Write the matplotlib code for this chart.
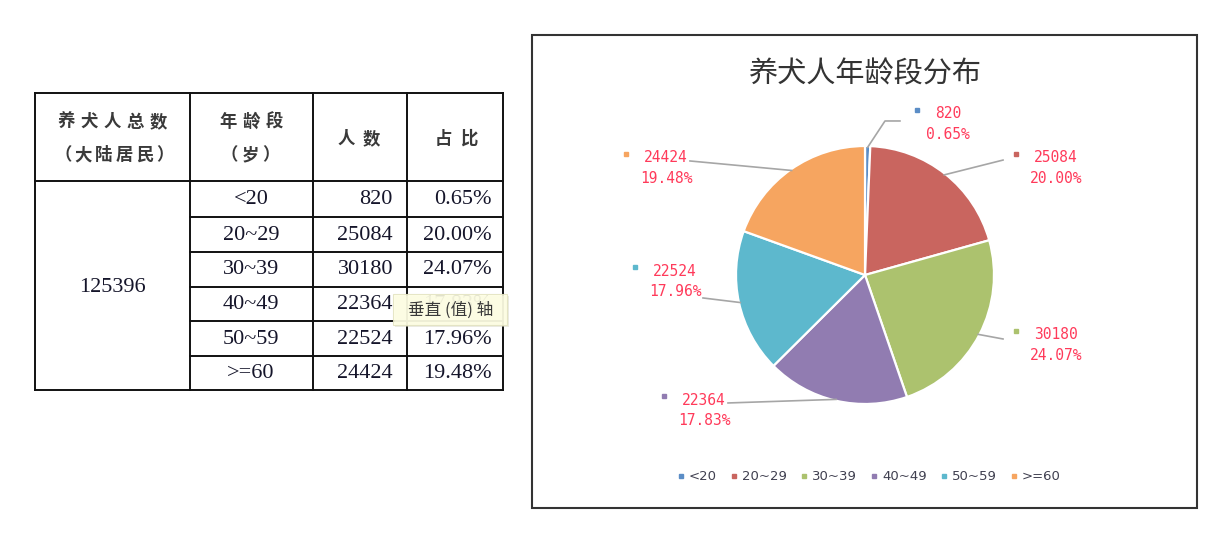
import matplotlib
matplotlib.use("Agg")
import matplotlib.pyplot as plt
from matplotlib.lines import Line2D
from matplotlib.patches import Rectangle
import numpy as np

plt.rcParams['font.family'] = ['Noto Sans CJK SC', 'DejaVu Sans']

# ---- data ----
total = 125396
age_groups = ['<20', '20~29', '30~39', '40~49', '50~59', '>=60']
counts = [820, 25084, 30180, 22364, 22524, 24424]
percents = ['0.65%', '20.00%', '24.07%', '17.83%', '17.96%', '19.48%']
chart_title = '养犬人年龄段分布'
colors = ['#5B8DC6', '#C9655F', '#ACC26E', '#917CB1', '#5DB8CD', '#F6A560']

fig = plt.figure(figsize=(12.32, 5.4), dpi=100)

# ---------------- table (pixel coordinates) ----------------
ax0 = fig.add_axes([0, 0, 1, 1])
ax0.set_xlim(0, 1232)
ax0.set_ylim(540, 0)
ax0.axis('off')

xs = [35, 190, 313, 407, 503]
ys = [93, 181, 216.5, 251.5, 286.5, 321, 355.5, 390]
lc = '#111111'
lw = 1.4
for x in xs:
    ax0.plot([x, x], [ys[0], ys[-1]], color=lc, lw=lw, solid_capstyle='projecting')
ax0.plot([xs[0], xs[-1]], [ys[0], ys[0]], color=lc, lw=lw, solid_capstyle='projecting')
ax0.plot([xs[0], xs[-1]], [ys[1], ys[1]], color=lc, lw=lw, solid_capstyle='projecting')
ax0.plot([xs[0], xs[-1]], [ys[-1], ys[-1]], color=lc, lw=lw, solid_capstyle='projecting')
for y in ys[2:-1]:
    ax0.plot([xs[1], xs[-1]], [y, y], color=lc, lw=lw, solid_capstyle='projecting')


def spaced(ax, xc, y, s, adv, **kw):
    n = len(s)
    x0 = xc - adv * (n - 1) / 2
    for i, ch in enumerate(s):
        ax.text(x0 + i * adv, y, ch, ha='center', va='center', **kw)


hkw = dict(fontsize=12.5, color='#3a3a3a', fontweight='bold')
spaced(ax0, 112, 122, '养犬人总数', 23, **hkw)
spaced(ax0, 114, 155, '（大陆居民）', 20.5, **hkw)
spaced(ax0, 251, 122, '年龄段', 23, **hkw)
spaced(ax0, 250, 155, '（岁）', 21, **hkw)
spaced(ax0, 359, 139, '人数', 25, **hkw)
spaced(ax0, 456, 139, '占比', 25, **hkw)

nkw = dict(fontsize=16, color='#15152a', family='Liberation Serif')
ax0.text(112, 287, str(total), ha='center', va='center', **nkw)
for i, (g, c, p) in enumerate(zip(age_groups, counts, percents)):
    yc = (ys[i + 1] + ys[i + 2]) / 2 + 1
    ax0.text(251, yc, g, ha='center', va='center', **nkw)
    ax0.text(393, yc, str(c), ha='right', va='center', **nkw)
    ax0.text(492, yc, p, ha='right', va='center', **nkw)

# tooltip (covers part of a cell, as in the reference)
ax0.add_patch(Rectangle((395, 296), 114, 31, facecolor='#d9d9c8', edgecolor='none', zorder=9, alpha=0.5))
ax0.add_patch(Rectangle((393, 294), 114, 31, facecolor='#FFFFE4', edgecolor='#e3e3c0', lw=0.8,
                        zorder=10, alpha=0.88))
ax0.text(451, 310, '垂直 (值) 轴', ha='center', va='center', fontsize=12, color='#3a3a3a', zorder=11)

# ---------------- pie chart ----------------
L, R, T, B = 532, 1197, 35, 508
cx, cy, rad = 865, 275, 129
ax = fig.add_axes([L / 1232, (540 - B) / 540, (R - L) / 1232, (B - T) / 540])
wedges, _ = ax.pie(counts, colors=colors, startangle=90, counterclock=False,
                   radius=1.0, wedgeprops=dict(edgecolor='white', linewidth=1.6))
ax.set_aspect('auto')
ax.set_xlim((L - cx) / rad, (R - cx) / rad)
ax.set_ylim((cy - B) / rad, (cy - T) / rad)
ax.axis('off')

# chart frame
fig.patches.append(Rectangle((L / 1232, (540 - B) / 540), (R - L) / 1232, (B - T) / 540,
                             transform=fig.transFigure, fill=False, edgecolor='#333333', lw=1.5))

ax.text(0, (cy - 74) / rad, chart_title, ha='center', va='center', fontsize=21, color='#333333')

# label layout (block centre, leader end, optional elbow) in radius units
label_pos = [(0.643, 1.171), (1.481, 0.829), (1.481, -0.543),
             (-1.248, -1.047), (-1.473, -0.047), (-1.543, 0.829)]
leader_end = [(0.271, 1.194), (1.07, 0.891), (1.07, -0.496),
              (-1.062, -0.992), (-1.256, -0.178), (-1.357, 0.884)]
elbow = {0: (0.155, 1.194)}

cum = np.cumsum([0] + counts[:-1])
red = '#FF3A5A'
for i, (c, p) in enumerate(zip(counts, percents)):
    mid = (cum[i] + c / 2) / total * 2 * np.pi
    sx, sy = np.sin(mid) * 0.99, np.cos(mid) * 0.99
    pts = [(sx, sy)]
    if i in elbow:
        pts.append(elbow[i])
    pts.append(leader_end[i])
    px, py = zip(*pts)
    ax.plot(px, py, color='#A6A6A6', lw=1.2, clip_on=False, zorder=3)
    bx, by = label_pos[i]
    s1 = str(c)
    ax.text(bx, by + 0.078, s1, ha='center', va='center', fontsize=10.5,
            family='DejaVu Sans Mono', color=red)
    ax.text(bx, by - 0.078, p, ha='center', va='center', fontsize=10.5,
            family='DejaVu Sans Mono', color=red)
    w1 = len(s1) * 8.8 / rad
    mx = bx - w1 / 2 - 18 / rad
    ax.plot([mx], [by + 0.078 + 0.03], marker='s', ms=3.5, color=colors[i], ls='', clip_on=False)

handles = [Line2D([], [], marker='s', ls='', ms=3.5, color=c) for c in colors]
ax.legend(handles, age_groups, loc='center', bbox_to_anchor=(0.03, (cy - 477) / rad),
          bbox_transform=ax.transData, ncol=6, frameon=False,
          handlelength=0.6, handletextpad=0.3, columnspacing=1.0, labelcolor='#404050',
          prop={'family': 'DejaVu Sans', 'size': 9.5})

fig.savefig('out.png', dpi=100)
